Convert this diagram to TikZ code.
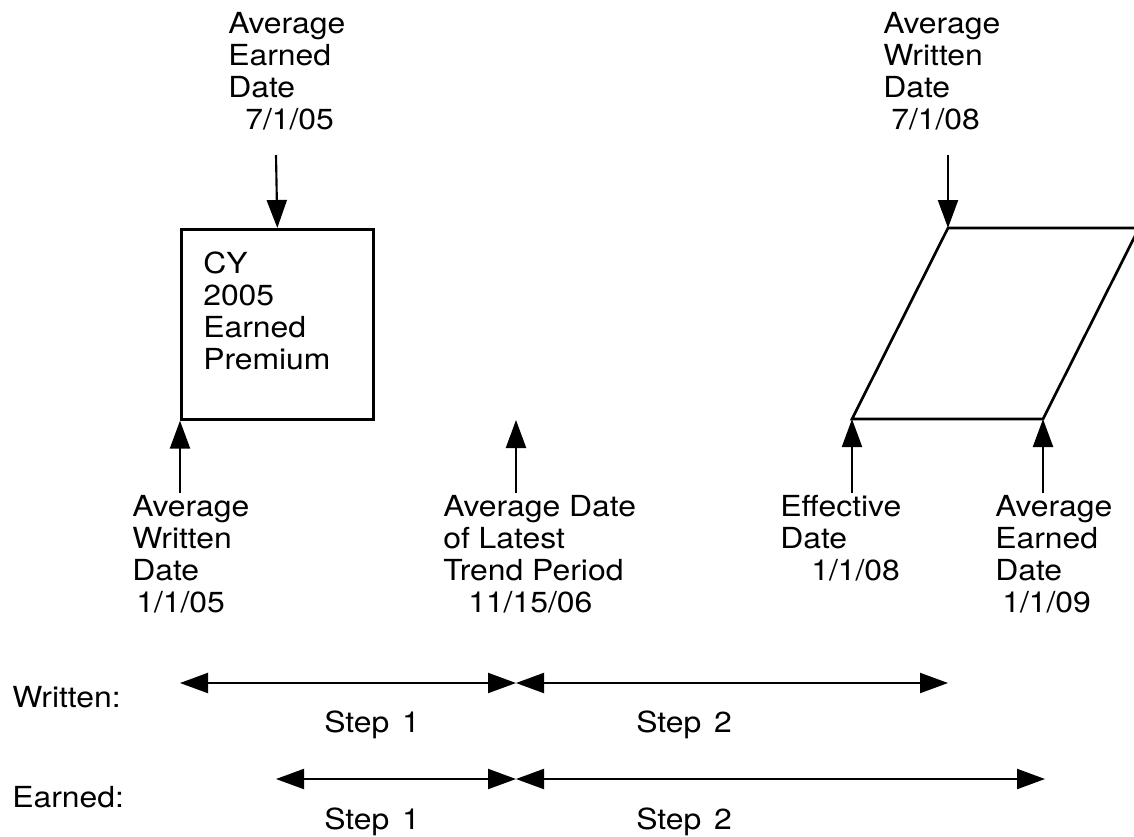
\documentclass[tikz,border=0pt]{standalone}
\usepackage{fontspec}
\setmainfont{TeX Gyre Heros}[FakeStretch=1.1]
\usetikzlibrary{arrows.meta}
\begin{document}
\begin{tikzpicture}[x=0.75pt,y=-0.75pt,
  lbl/.style={inner sep=0pt, anchor=north west, align=left, font=\fontsize{21.75pt}{24pt}\selectfont},
  one/.style={inner sep=0pt, anchor=base west, font=\fontsize{21.75pt}{24pt}\selectfont},
  arr/.style={line width=1.6pt, -{Triangle[length=21pt,width=15pt]}},
  dbl/.style={line width=1.6pt, {Triangle[length=21pt,width=15pt]}-{Triangle[length=21pt,width=15pt]}},
  shp/.style={line width=2pt, line join=miter}]
\useasboundingbox (0,0) rectangle (1134,836);
\clip (0,0) rectangle (1134,836);
% box
\node[shp, draw, anchor=north west, minimum width=144pt, minimum height=142.5pt, inner sep=0pt] (box) at (180,228) {};
\node[lbl] (boxtxt) at (203,250.6) {\strut CY\\2005\\Earned\\Premium};
% parallelogram
\coordinate (ptl) at (948,228);
\coordinate (ptr) at (1139,228);
\coordinate (pbr) at (1043,419);
\coordinate (pbl) at (852,419);
\draw[shp] (ptl) -- (ptr) -- (pbr) -- (pbl) -- cycle;
% top labels and arrows
\node[lbl] (l1) at (228,10.6) {\strut Average\\Earned\\Date\\\hspace*{12.75pt}7/1/05};
\node[lbl] (l2) at (883,10.6) {\strut Average\\Written\\Date\\\hspace*{6pt}7/1/08};
\coordinate (s1) at (276,155);
\coordinate (s2) at (948,155);
\draw[arr] (s1) -- (box.north);
\draw[arr] (s2) -- (ptl);
% bottom labels and arrows
\node[lbl] (l3) at (132,493.6) {\strut Average\\Written\\Date\\\hspace*{3pt}1/1/05};
\node[lbl] (l4) at (443,493.6) {\strut Average Date\\of Latest\\Trend Period\\\hspace*{18.75pt}11/15/06};
\node[lbl] (l5) at (780,493.6) {\strut Effective\\Date\\\hspace*{23.25pt}1/1/08};
\node[lbl] (l6) at (995,493.6) {\strut Average\\Earned\\Date\\\hspace*{5.25pt}1/1/09};
\coordinate (b1) at (180,493);
\coordinate (b2) at (516,493);
\coordinate (t2) at (516,420);
\coordinate (b3) at (852,493);
\coordinate (b4) at (1043,493);
\draw[arr] (b1) -- (box.south west);
\draw[arr] (b2) -- (t2);
\draw[arr] (b3) -- (pbl);
\draw[arr] (b4) -- (pbr);
% timelines
\node[one] (wr) at (12,707) {Written:};
\node[one] (er) at (12,807) {Earned:};
\coordinate (w0) at (180,683);
\coordinate (w1) at (516,683);
\coordinate (w2) at (948,683);
\coordinate (e0) at (276,779);
\coordinate (e1) at (516,779);
\coordinate (e2) at (1045,779);
\draw[dbl] (w0) -- (w1);
\draw[dbl] (w1) -- (w2);
\draw[dbl] (e0) -- (e1);
\draw[dbl] (e1) -- (e2);
\node[one] (ws1) at (324,732) {Step\hspace{9.75pt}1};
\node[one] (ws2) at (636,732) {Step\hspace{9.75pt}2};
\node[one] (es1) at (324,829) {Step\hspace{9.75pt}1};
\node[one] (es2) at (636,829) {Step\hspace{9.75pt}2};
\end{tikzpicture}
\end{document}
